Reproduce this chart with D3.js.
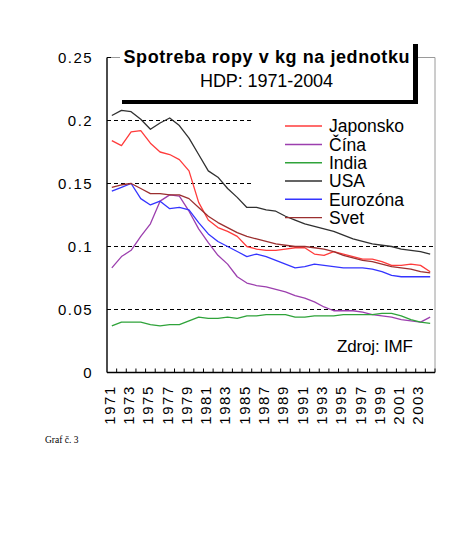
<!DOCTYPE html>
<html><head><meta charset="utf-8">
<script src="https://cdn.jsdelivr.net/npm/d3@7"></script>
<style>
body{margin:0;background:#fff}
svg{display:block}
text{font-family:"Liberation Sans",Arial,sans-serif;fill:#000}
</style>
</head><body>
<svg id="c" width="474" height="547"></svg>
<script>
const years = ["1971","1972","1973","1974","1975","1976","1977","1978","1979","1980",
  "1981","1982","1983","1984","1985","1986","1987","1988","1989","1990",
  "1991","1992","1993","1994","1995","1996","1997","1998","1999","2000",
  "2001","2002","2003","2004"];
const tickLabels = ["1971","1973","1975","1977","1979","1981","1983","1985","1987","1989",
  "1991","1993","1995","1997","1999","2001","2003"];
const yTicks = [0, 0.05, 0.1, 0.15, 0.2, 0.25];
const yTickLabels = ["0","0.05","0.1","0.15","0.2","0.25"];
const gridValues = [0.05, 0.1, 0.15, 0.2];
const shortGridValues = [0.15, 0.2];

const japonsko = [0.184,0.180,0.191,0.192,0.182,0.175,0.173,0.169,0.160,0.135,
  0.121,0.115,0.112,0.108,0.100,0.098,0.097,0.097,0.098,0.099,
  0.099,0.094,0.093,0.096,0.094,0.092,0.090,0.090,0.088,0.085,
  0.085,0.086,0.085,0.080];
const cina = [0.083,0.092,0.097,0.108,0.118,0.136,0.141,0.140,0.128,0.114,
  0.103,0.093,0.086,0.076,0.071,0.069,0.068,0.066,0.064,0.061,
  0.059,0.056,0.052,0.049,0.049,0.049,0.048,0.046,0.045,0.044,
  0.042,0.041,0.040,0.044];
const india = [0.037,0.040,0.040,0.040,0.038,0.037,0.038,0.038,0.041,0.044,
  0.043,0.043,0.044,0.043,0.045,0.045,0.046,0.046,0.046,0.044,
  0.044,0.045,0.045,0.045,0.046,0.046,0.046,0.046,0.047,0.047,
  0.045,0.042,0.040,0.039];
const usa = [0.204,0.208,0.207,0.201,0.193,0.198,0.202,0.196,0.186,0.173,
  0.160,0.155,0.146,0.139,0.131,0.131,0.129,0.128,0.124,0.121,
  0.118,0.116,0.114,0.112,0.109,0.106,0.104,0.102,0.101,0.100,
  0.098,0.097,0.096,0.094];
const eurozona = [0.144,0.147,0.150,0.138,0.133,0.136,0.130,0.131,0.129,0.119,
  0.110,0.104,0.100,0.096,0.092,0.094,0.092,0.089,0.086,0.083,
  0.084,0.086,0.085,0.084,0.083,0.083,0.083,0.082,0.080,0.077,
  0.076,0.076,0.076,0.076];
const svet = [0.147,0.149,0.150,0.146,0.142,0.142,0.141,0.141,0.138,0.131,
  0.124,0.119,0.115,0.111,0.108,0.106,0.104,0.102,0.101,0.100,
  0.100,0.099,0.098,0.096,0.093,0.091,0.089,0.088,0.086,0.084,
  0.083,0.082,0.080,0.079];

const seriesNames = ["Japonsko","Čína","India","USA","Eurozóna","Svet"];
const seriesValues = [japonsko, cina, india, usa, eurozona, svet];
const seriesColors = ["#ff3b3b","#9c3fae","#2fa33a","#303030","#3434ff","#9b2f2f"];

const svg = d3.select("#c");
const L = 107, R = 435, T = 57.5, B = 372.5;
const x = d3.scaleBand().domain(years).range([L, R]);
const xc = d => x(d) + x.bandwidth() / 2;
const y = d3.scaleLinear().domain([0, 0.25]).range([B, T]);

// frame (top/right grey)
svg.append("path").attr("d", `M${L},${T}H${R}V${B}`)
  .attr("fill","none").attr("stroke","#9a9a9a").attr("stroke-width",1);

// gridlines
svg.selectAll("line.grid").data(gridValues).enter().append("line")
  .attr("x1", L).attr("x2", d => shortGridValues.includes(d) ? x("1986") : R)
  .attr("y1", d => y(d)).attr("y2", d => y(d))
  .attr("stroke","#000").attr("stroke-width",1.2).attr("stroke-dasharray","4,3");

// series
const line = d3.line().x((v,i) => xc(years[i])).y(v => y(v));
svg.selectAll("path.s").data(seriesValues).enter().append("path")
  .attr("d", d => line(d)).attr("fill","none")
  .attr("stroke", (d,i) => seriesColors[i]).attr("stroke-width",1.3)
  .attr("stroke-linejoin","round");

// axes
svg.append("line").attr("x1",L).attr("x2",L).attr("y1",T).attr("y2",B)
  .attr("stroke","#000").attr("stroke-width",1.4);
svg.append("line").attr("x1",L).attr("x2",R).attr("y1",B).attr("y2",B)
  .attr("stroke","#000").attr("stroke-width",1.4);

// x ticks between categories (inward)
svg.selectAll("line.xt").data(years.slice(1).concat(["end"])).enter().append("line")
  .attr("x1", d => d === "end" ? R : x(d)).attr("x2", d => d === "end" ? R : x(d))
  .attr("y1", B).attr("y2", B - 4).attr("stroke","#000").attr("stroke-width",1);

// y ticks (inward)
svg.selectAll("line.yt").data(yTicks).enter().append("line")
  .attr("x1", L).attr("x2", L + 4).attr("y1", d => y(d)).attr("y2", d => y(d))
  .attr("stroke","#000").attr("stroke-width",1);

// y labels
svg.selectAll("text.yl").data(yTicks).enter().append("text")
  .attr("x", 93.2).attr("y", d => y(d)).attr("dy","0.36em")
  .attr("text-anchor","end").attr("font-size",15).attr("letter-spacing",1.5)
  .attr("fill","#222")
  .text((d,i) => yTickLabels[i]);

// x labels
svg.selectAll("text.xl").data(tickLabels).enter().append("text")
  .attr("transform", d => `translate(${xc(d) - 2.5},385) rotate(-90)`)
  .attr("dy","0.36em").attr("text-anchor","end")
  .attr("font-size",15).attr("letter-spacing",1.6).attr("fill","#222")
  .text(d => d);

// title box with shadow
svg.append("rect").attr("x",122).attr("y",44).attr("width",296).attr("height",60).attr("fill","#000");
svg.append("rect").attr("x",120).attr("y",38).attr("width",293).attr("height",62).attr("fill","#fff");
svg.append("text").attr("x",123.5).attr("y",62.5).attr("font-size",18).attr("font-weight","bold")
  .attr("textLength",286).attr("lengthAdjust","spacing")
  .text("Spotreba ropy v kg na jednotku");
svg.append("text").attr("x",200).attr("y",86.5).attr("font-size",18)
  .attr("textLength",133).attr("lengthAdjust","spacing")
  .text("HDP: 1971-2004");

// legend
const legY = [126, 144.5, 162.8, 181, 199.3, 217.6];
const leg = svg.selectAll("g.leg").data(seriesNames).enter().append("g")
  .attr("transform",(d,i)=>`translate(0,${legY[i]})`);
leg.append("line").attr("x1",285).attr("x2",322).attr("y1",0).attr("y2",0)
  .attr("stroke",(d,i)=>seriesColors[i]).attr("stroke-width",1.4);
leg.append("text").attr("x",329).attr("y",0).attr("dy","0.36em")
  .attr("font-size",17.5).attr("fill","#222").text(d=>d);

// source
svg.append("text").attr("x",337).attr("y",352).attr("font-size",17)
  .attr("textLength",76).attr("lengthAdjust","spacing").attr("fill","#222")
  .text("Zdroj: IMF");

// caption
svg.append("text").attr("x",45).attr("y",443).attr("font-size",9.5)
  .style("font-family",'"Liberation Serif","Times New Roman",serif')
  .text("Graf č. 3");
</script>
</body></html>
